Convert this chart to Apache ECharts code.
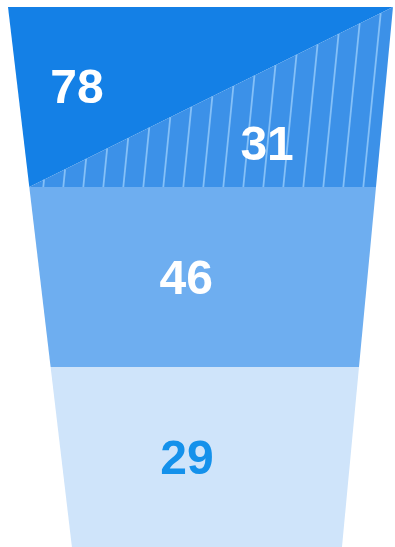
<!DOCTYPE html>
<html>
<head>
<meta charset="utf-8">
<script src="https://cdn.jsdelivr.net/npm/echarts@6/dist/echarts.min.js"></script>
<style>
  html, body { margin: 0; padding: 0; background: #ffffff; }
  #chart { width: 395px; height: 547px; }
</style>
</head>
<body>
<div id="chart"></div>
<script>
// Stage values, the band each one sits in, and which part of that band it fills
const stageValues = [78, 31, 46, 29];
const stageBands = [0, 0, 1, 2];
const stageParts = ['upper', 'lower', 'full', 'full'];
const bandCount = 3;

// Funnel outline in x-axis units (0-100) at the top and bottom of the stack
const TOP_LEFT = 0, TOP_RIGHT = 100, BOTTOM_LEFT = 16.6, BOTTOM_RIGHT = 86.75;
const leftAt = t => TOP_LEFT + (BOTTOM_LEFT - TOP_LEFT) * t / bandCount;
const rightAt = t => TOP_RIGHT + (BOTTOM_RIGHT - TOP_RIGHT) * t / bandCount;

// Label anchor for each stage, in axis units [x, y]
const labelAnchors = [[17.9, 0.462], [67.3, 0.777], [46.3, 1.522], [46.5, 2.522]];

const partFill = ['#1480E6', '#3C91E8', '#6EAEF0', '#CFE4FA'];
const labelColor = ['#ffffff', '#ffffff', '#ffffff', '#1491EB'];

// Near-vertical hatch lines across the lower triangle of the top band
function hatchLines(bl, br, tr) {
  const lines = [];
  const lean = 0.1, gap = 20;
  const yb = bl[1];
  const m = (yb - tr[1]) / (tr[0] - bl[0]);
  const H = yb - tr[1];
  for (let x0 = bl[0] + 14; x0 < br[0]; x0 += gap) {
    const sDiag = (x0 - bl[0]) * m / (1 - lean * m);
    const sEdge = (br[0] - x0) / (lean - (tr[0] - br[0]) / H);
    const s = Math.min(sDiag, sEdge > 0 ? sEdge : Infinity);
    lines.push({
      type: 'line',
      shape: { x1: x0, y1: yb, x2: x0 + lean * s, y2: yb - s },
      style: { stroke: '#84C0F7', lineWidth: 1.8 },
      silent: true
    });
  }
  return lines;
}

const chart = echarts.init(document.getElementById('chart'), null, { renderer: 'canvas' });

chart.setOption({
  animation: false,
  backgroundColor: '#ffffff',
  grid: { left: 8, right: 2, top: 7, bottom: 0 },
  xAxis: { type: 'value', min: 0, max: 100, show: false },
  yAxis: { type: 'value', min: 0, max: bandCount, inverse: true, show: false },
  series: [{
    type: 'custom',
    data: stageValues.map((v, i) => [stageBands[i], v]),
    renderItem(params, api) {
      const i = params.dataIndex;
      const b = api.value(0);
      const part = stageParts[i];
      const tl = api.coord([leftAt(b), b]);
      const tr = api.coord([rightAt(b), b]);
      const bl = api.coord([leftAt(b + 1), b + 1]);
      const br = api.coord([rightAt(b + 1), b + 1]);
      let pts;
      if (part === 'upper') pts = [tl, tr, bl];
      else if (part === 'lower') pts = [tr, br, bl];
      else pts = [tl, tr, br, bl];

      const children = [{
        type: 'polygon',
        shape: { points: pts },
        style: { fill: partFill[i] }
      }];
      if (part === 'lower') children.push(...hatchLines(bl, br, tr));

      const at = api.coord(labelAnchors[i]);
      children.push({
        type: 'text',
        x: at[0], y: at[1],
        style: {
          text: String(api.value(1)),
          fill: labelColor[i],
          font: 'bold 48px "Liberation Sans", Arial, sans-serif',
          align: 'center',
          verticalAlign: 'middle'
        },
        z2: 10
      });
      return { type: 'group', children };
    }
  }]
});
</script>
</body>
</html>
